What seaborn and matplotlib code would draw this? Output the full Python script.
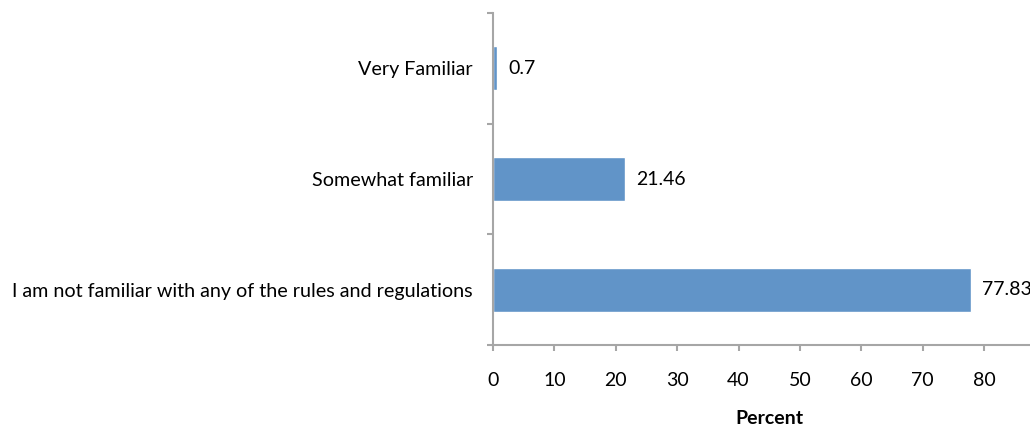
import matplotlib
matplotlib.use("Agg")
import matplotlib.pyplot as plt
import seaborn as sns
import pandas as pd

# values
categories = ["Very Familiar", "Somewhat familiar",
              "I am not familiar with any of the rules and regulations"]
percent = [0.7, 21.46, 77.83]
x_ticks = [0, 10, 20, 30, 40, 50, 60, 70, 80]

sns.set_style("white")
plt.rcParams["font.family"] = ["Lato", "DejaVu Sans"]
plt.rcParams["text.color"] = "black"
plt.rcParams["xtick.labelcolor"] = "black"
plt.rcParams["ytick.labelcolor"] = "black"
plt.rcParams["axes.labelcolor"] = "black"

df = pd.DataFrame({"category": categories, "percent": percent})

fig = plt.figure(figsize=(10.3, 4.3), dpi=100)
ax = fig.add_axes([0.4786, 0.1977, 0.5365, 0.772])

sns.barplot(data=df, x="percent", y="category", orient="h", color="#6194C8",
            width=0.4, saturation=1, ax=ax)

# axis runs on to 90 past the right edge, as in the reference
ax.set_xlim(0, 90)
ax.set_ylim(2.5, -0.5)
ax.set_xticks(x_ticks)
ax.set_yticks([-0.5, 0.5, 1.5, 2.5], minor=True)

grey = "#A6A6A6"
for side in ["top", "right"]:
    ax.spines[side].set_visible(False)
for side in ["left", "bottom"]:
    ax.spines[side].set_color(grey)
    ax.spines[side].set_linewidth(1.5)

ax.tick_params(axis="y", which="major", length=0, pad=14.4, labelsize=14.2)
ax.tick_params(axis="y", which="minor", left=True, length=4.3, width=1.5, color=grey)
ax.tick_params(axis="x", bottom=True, length=4.3, width=1.5, color=grey, pad=15,
               labelsize=14)

ax.bar_label(ax.containers[0], labels=[f"{v:g}" for v in percent],
             padding=8, fontsize=14, color="black")

ax.set_ylabel("")
ax.set_xlabel("Percent", fontweight="bold", fontsize=14, labelpad=15)

fig.savefig("out.png", dpi=100)
